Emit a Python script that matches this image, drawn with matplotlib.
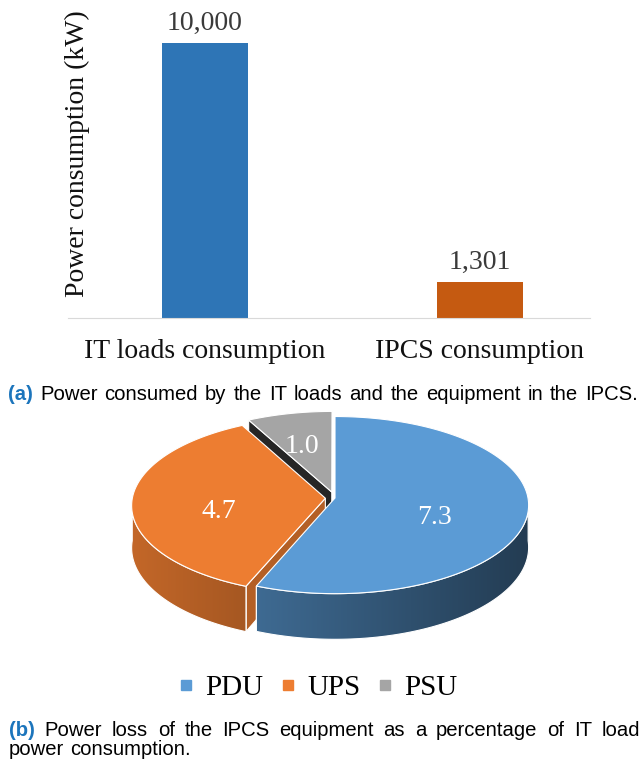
import numpy as np
import matplotlib.pyplot as plt
from matplotlib.patches import Polygon
from matplotlib.lines import Line2D
import matplotlib.colors as mcolors

# (a) bar chart data
bar_cats = ['IT loads consumption', 'IPCS consumption']
bar_vals = [10000, 1301]
bar_cols = ['#2e75b6', '#c55a11']

# (b) pie data: power loss as % of IT load
pie_labels = ['PDU', 'UPS', 'PSU']
pie_vals = [7.3, 4.7, 1.0]
pie_cols = ['#5b9bd5', '#ed7d31', '#a5a5a5']
pie_explode = [0.0, 0.05, 0.07]
label_r = [0.52, 0.55, 0.7]

W, H = 643, 762
serif = 'Liberation Serif'
sans = 'Liberation Sans'

fig = plt.figure(figsize=(W / 100, H / 100), dpi=100)
renderer = fig.canvas.get_renderer()


def px_box(l, t, r, b):
    # pixel box (top-left origin) -> figure fraction rect
    return [l / W, 1 - b / H, (r - l) / W, (b - t) / H]


# ---- bar chart ----
ax = fig.add_axes(px_box(68, 10, 590, 318))
x = np.arange(len(bar_cats))
bars = ax.bar(x, bar_vals, width=0.313, color=bar_cols)
ax.set_xlim(-0.498, 1.4)
ax.set_ylim(0, 11200)
for s in ['top', 'right', 'left']:
    ax.spines[s].set_visible(False)
ax.spines['bottom'].set_color('#d9d9d9')
ax.set_yticks([])
ax.set_xticks(x, bar_cats, fontfamily=serif, fontsize=20)
ax.tick_params(axis='x', length=0, pad=15, colors='#111111')
for b, v in zip(bars, bar_vals):
    ax.annotate(f'{v:,}', (b.get_x() + b.get_width() / 2, v), xytext=(0, 9.5),
                textcoords='offset points', ha='center', va='baseline',
                fontfamily=serif, fontsize=20, color='#3a3a3a')
fig.text(77 / W, 1 - 154 / H, 'Power consumption (kW)', rotation=90,
         ha='center', va='center', fontfamily=serif, fontsize=20, color='#111111')

# ---- fake 3D pie ----
cx, cy = 335, 498
pl, pt, pr, pb = 95, 395, 575, 660
pax = fig.add_axes(px_box(pl, pt, pr, pb))
pax.axis('off')
rx, ry, depth, persp = 193, 88, 42, 0.08


def proj(r, t, z=0.0, off=(0.0, 0.0)):
    px = r * np.cos(t) + off[0]
    py = r * np.sin(t) + off[1]
    s = 1.0 / (1 + persp * py)
    return rx * px * s, (-ry * py + z) * s


def shade(col, f):
    rgb = np.array(mcolors.to_rgb(col)) * f
    return np.clip(rgb, 0, 1)


cut_shade = {1: 0.76, 2: 0.23}

tot = sum(pie_vals)
angles = 90 - np.concatenate([[0], np.cumsum(pie_vals)]) / tot * 360
slices = []
for i in range(len(pie_vals)):
    t0, t1 = np.radians(angles[i]), np.radians(angles[i + 1])
    mid = (t0 + t1) / 2
    off = (pie_explode[i] * np.cos(mid), pie_explode[i] * np.sin(mid))
    slices.append((i, t0, t1, mid, off))

gx = np.linspace(pl - cx, pr - cx, 300)

# back slices first
for i, t0, t1, mid, off in sorted(slices, key=lambda s: -np.sin(s[3])):
    col = pie_cols[i]
    # radial cut walls
    for a, nrm in [(t0, t0 + np.pi / 2), (t1, t1 - np.pi / 2)]:
        if np.sin(nrm) < -0.05:
            pts = [proj(0, a, 0, off), proj(1, a, 0, off),
                   proj(1, a, depth, off), proj(0, a, depth, off)]
            pax.add_patch(Polygon(pts, closed=True, facecolor=shade(col, cut_shade.get(i, 0.6)),
                                  edgecolor='white', lw=0.8))
    # outer wall, front part only, with a left-to-right gradient
    ts = np.linspace(t1, t0, 240)
    tv = ts[np.sin(ts) < 0]
    if len(tv) > 1:
        top = [proj(1, t, 0, off) for t in tv]
        bot = [proj(1, t, depth, off) for t in tv[::-1]]
        wall = Polygon(top + bot, closed=True, facecolor='none', edgecolor='white', lw=0.8)
        pax.add_patch(wall)
        grad = np.array([shade(col, 0.60 - 0.0011 * g) for g in gx])[None, :, :]
        im = pax.imshow(grad, extent=(gx[0], gx[-1], pb - cy, pt - cy), aspect='auto',
                        interpolation='bilinear', zorder=wall.get_zorder())
        im.set_clip_path(wall)
        # redraw outline on top of gradient
        pax.add_patch(Polygon(top + bot, closed=True, facecolor='none',
                              edgecolor='white', lw=0.8))
    # top face
    arc = [proj(1, t, 0, off) for t in np.linspace(t0, t1, 240)]
    pax.add_patch(Polygon([proj(0, 0, 0, off)] + arc, closed=True,
                          facecolor=col, edgecolor='white', lw=0.8))
    lx, ly = proj(label_r[i], mid, 0, off)
    pax.text(lx, ly + 11, f'{pie_vals[i]:.1f}', ha='center', va='center',
             color='white', fontfamily=serif, fontsize=20, zorder=5)

pax.set_xlim(pl - cx, pr - cx)
pax.set_ylim(pb - cy, pt - cy)   # y grows downward

handles = [Line2D([], [], marker='s', ls='none', color=c, markersize=6.5) for c in pie_cols]
fig.legend(handles, pie_labels, loc='center', bbox_to_anchor=(318 / W, 1 - 688 / H),
           ncol=3, frameon=False, prop={'family': serif, 'size': 21},
           handlelength=0.5, handletextpad=0.4, columnspacing=0.6)


# ---- captions ----
def caption_line(words, x0, x1, ybase, size=14.6, justify=True):
    texts = []
    for k, w in enumerate(words):
        if k == 0 and w.startswith('('):
            kw = dict(fontweight='bold', color='#1c75bc')
        else:
            kw = dict(color='black')
        texts.append(fig.text(0, 1 - ybase / H, w, fontfamily=sans, fontsize=size,
                              va='baseline', ha='left', **kw))
    widths = [t.get_window_extent(renderer).width for t in texts]
    space = texts[0].get_fontsize() * 100 / 72 * 0.278
    gap = (x1 - x0 - sum(widths)) / (len(words) - 1) if justify else space
    xp = x0
    for t, w in zip(texts, widths):
        t.set_x(xp / W)
        xp += w + gap


caption_line('(a) Power consumed by the IT loads and the equipment in the IPCS.'.split(),
             8, 638, 400)
caption_line('(b) Power loss of the IPCS equipment as a percentage of IT load'.split(),
             9, 640, 736)
caption_line('power consumption.'.split(), 9, 640, 755, justify=False)

fig.savefig('out.png', dpi=100)
